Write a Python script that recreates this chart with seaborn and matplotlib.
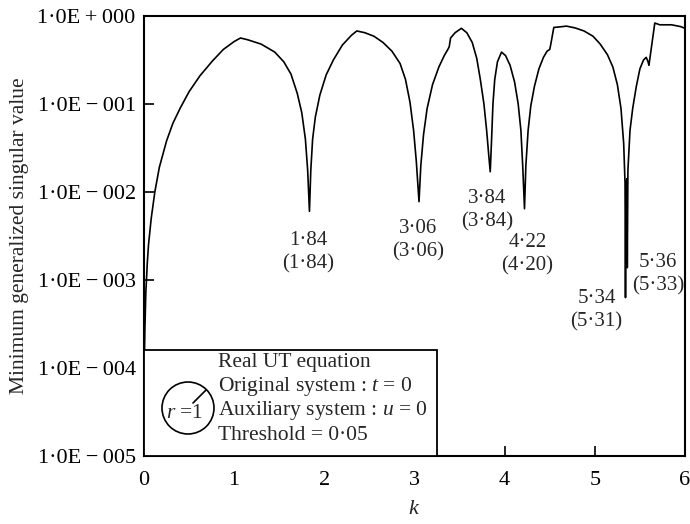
import matplotlib
matplotlib.use("Agg")
import numpy as np
import matplotlib.pyplot as plt
from matplotlib.patches import Rectangle, Ellipse
from matplotlib.ticker import NullLocator, FixedLocator, FixedFormatter
import seaborn as sns

# Minimum generalized singular value versus k (real UT equation, r = 1),
# stored as log10 of the singular value
k_vals = [0.000, 0.004, 0.010, 0.020, 0.037, 0.050, 0.080, 0.120, 0.170, 0.250,
          0.320, 0.400, 0.500, 0.620, 0.760, 0.880, 1.000, 1.070, 1.150, 1.300,
          1.450, 1.550, 1.630, 1.700, 1.750, 1.790, 1.815, 1.835, 1.850, 1.870,
          1.900, 1.950, 2.020, 2.100, 2.200, 2.300, 2.360, 2.450, 2.550, 2.650,
          2.750, 2.840, 2.900, 2.950, 2.990, 3.020, 3.050, 3.070, 3.100, 3.140,
          3.200, 3.270, 3.330, 3.370, 3.385, 3.400, 3.450, 3.520, 3.580, 3.640,
          3.690, 3.730, 3.770, 3.800, 3.825, 3.840, 3.855, 3.870, 3.890, 3.920,
          3.965, 4.010, 4.060, 4.110, 4.150, 4.180, 4.200, 4.220, 4.235, 4.260,
          4.290, 4.330, 4.380, 4.430, 4.470, 4.500, 4.510, 4.545, 4.600, 4.685,
          4.780, 4.880, 4.980, 5.060, 5.140, 5.200, 5.250, 5.290, 5.320, 5.335,
          5.340, 5.345, 5.355, 5.360, 5.367, 5.390, 5.420, 5.460, 5.500, 5.540,
          5.570, 5.590, 5.600, 5.665, 5.720, 5.850, 5.950, 6.000]
sv_log10 = [-4.30, -3.90, -3.55, -3.15, -2.80, -2.60, -2.30, -2.00, -1.72, -1.42,
            -1.22, -1.05, -0.86, -0.68, -0.51, -0.38, -0.29, -0.25, -0.27, -0.32,
            -0.41, -0.52, -0.66, -0.88, -1.10, -1.40, -1.75, -2.22, -1.75, -1.40,
            -1.15, -0.90, -0.67, -0.50, -0.33, -0.22, -0.17, -0.19, -0.23, -0.30,
            -0.40, -0.54, -0.72, -0.98, -1.30, -1.65, -2.11, -1.70, -1.35, -1.05,
            -0.78, -0.58, -0.45, -0.38, -0.35, -0.25, -0.19, -0.14, -0.19, -0.30,
            -0.48, -0.72, -1.00, -1.30, -1.60, -1.77, -1.40, -1.00, -0.72, -0.52,
            -0.41, -0.45, -0.56, -0.75, -1.00, -1.30, -1.70, -2.19, -1.70, -1.30,
            -1.02, -0.80, -0.60, -0.47, -0.40, -0.38, -0.33, -0.13, -0.125, -0.115,
            -0.135, -0.17, -0.23, -0.32, -0.44, -0.58, -0.78, -1.05, -1.45, -1.90,
            -3.20, -1.95, -1.85, -2.86, -1.75, -1.30, -1.05, -0.80, -0.60, -0.50,
            -0.47, -0.52, -0.56, -0.08, -0.10, -0.10, -0.12, -0.14]
sv_vals = np.power(10.0, sv_log10)

# Located zeros: computed value with the reference value in brackets
dip_k = [1.835, 3.050, 3.840, 4.220, 5.340, 5.360]
dip_log10 = [-2.22, -2.11, -1.77, -2.19, -3.20, -2.86]
dip_text = ["1·84\n(1·84)", "3·06\n(3·06)", "3·84\n(3·84)", "4·22\n(4·20)",
            "5·34\n(5·31)", "5·36\n(5·33)"]

y_ticks = [1e-5, 1e-4, 1e-3, 1e-2, 1e-1, 1e0]
y_tick_labels = ["1·0E\u2009−\u2009005", "1·0E\u2009−\u2009004", "1·0E\u2009−\u2009003",
                 "1·0E\u2009−\u2009002", "1·0E\u2009−\u2009001", "1·0E\u2009+\u2009000"]
x_ticks = [0, 1, 2, 3, 4, 5, 6]

box_lines = ["Real UT equation", "Original system : $t$ = 0",
             "Auxiliary system : $u$ = 0", "Threshold = 0·05"]

sns.set_theme(style="ticks")
plt.rcParams["font.family"] = ["Liberation Serif", "DejaVu Serif"]
plt.rcParams["mathtext.fontset"] = "custom"
plt.rcParams["mathtext.rm"] = "Liberation Serif"
plt.rcParams["mathtext.it"] = "Liberation Serif:italic"

fig = plt.figure(figsize=(6.9, 5.24), dpi=100)
ax = fig.add_axes([144 / 690, 1 - 456 / 524, 541 / 690, 440 / 524])

sns.lineplot(x=k_vals, y=sv_vals, ax=ax, color="black", linewidth=1.2,
             estimator=None, sort=False)

ax.set_yscale("log")
ax.set_xlim(0, 6)
ax.set_ylim(1e-5, 1)
ax.yaxis.set_major_locator(FixedLocator(y_ticks))
ax.yaxis.set_major_formatter(FixedFormatter(y_tick_labels))
ax.yaxis.set_minor_locator(NullLocator())
ax.set_xticks(x_ticks)
ax.set_xticklabels([str(t) for t in x_ticks])

ax.tick_params(axis="both", which="major", direction="in", length=7, width=1.2,
               labelsize=16, pad=6, colors="black")
ax.tick_params(axis="x", pad=11)
ax.tick_params(top=False, right=False)
for sp in ax.spines.values():
    sp.set_linewidth(1.5)
    sp.set_color("black")
    sp.set_visible(True)

ax.set_ylabel("Minimum generalized singular value", fontsize=15.5)
ax.set_xlabel("$k$", fontsize=16)
ax.yaxis.set_label_coords(-0.212, 0.5)
ax.xaxis.set_label_coords(0.5, -0.101)

# Labels under each located zero
offsets = [(-1, -20), (-1, -17), (-3, -17), (3, -24), (-29, 9), (31, 15)]
for kx, lv, txt, (dx, dy) in zip(dip_k, dip_log10, dip_text, offsets):
    ax.annotate(txt, xy=(kx, 10.0 ** lv), xytext=(dx, dy), textcoords="offset pixels",
                ha="center", va="top", fontsize=15, linespacing=1.3)

# Description box in the lower-left corner
ax.add_patch(Rectangle((0, 0), 293 / 541, 106 / 440, transform=ax.transAxes,
                       facecolor="white", edgecolor="black", linewidth=1.3, zorder=3))
for i, line in enumerate(box_lines):
    ax.text(74 / 541, (456 - 363 - 24 * i) / 440, line, transform=ax.transAxes,
            ha="left", va="center", fontsize=15.5, zorder=4)
ax.add_patch(Ellipse((44 / 541, (456 - 408) / 440), 52 / 541, 52 / 440,
                     transform=ax.transAxes, facecolor="none", edgecolor="black",
                     linewidth=1.2, zorder=4))
ax.plot([49 / 541, 62 / 541], [(456 - 403) / 440, (456 - 390) / 440],
        transform=ax.transAxes, color="black", linewidth=1.2, zorder=4)
ax.text(41 / 541, (456 - 414) / 440, "$r$ =1", transform=ax.transAxes,
        ha="center", va="center", fontsize=15.5, zorder=4)

fig.savefig("out.png", dpi=100)
